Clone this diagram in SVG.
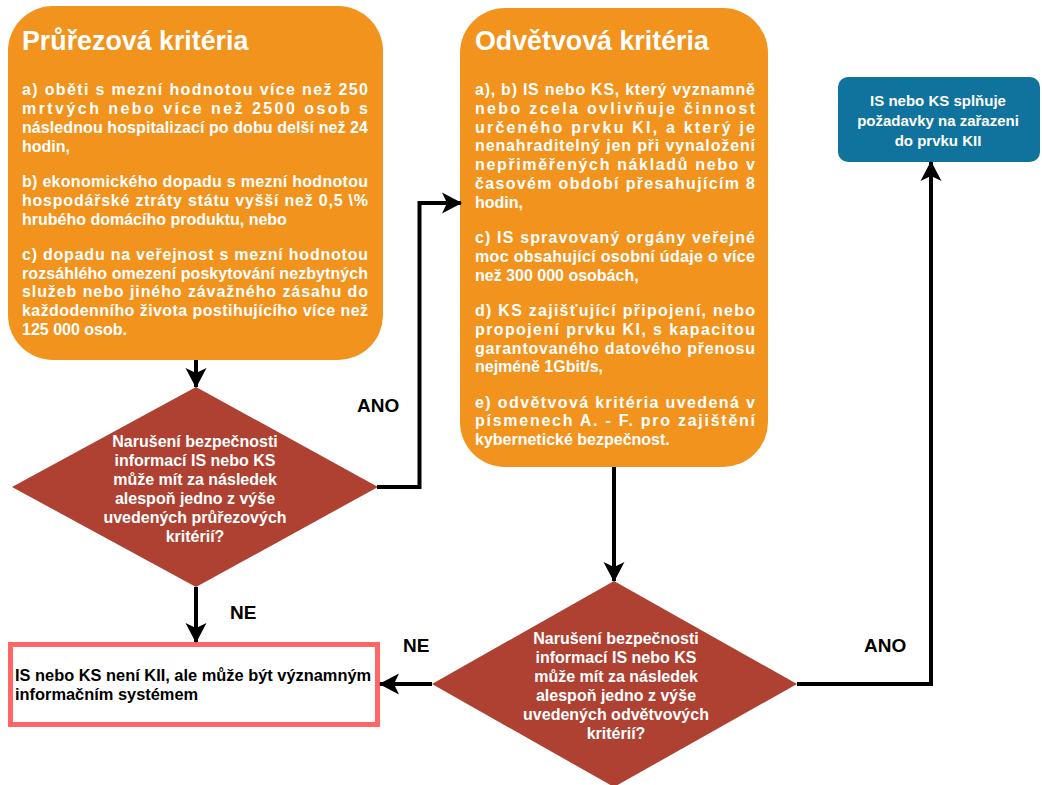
<svg xmlns="http://www.w3.org/2000/svg" width="1042" height="785" viewBox="0 0 1042 785">
<style>
text{font-family:"Liberation Sans",Arial,Helvetica,sans-serif;font-weight:bold}
.orange{fill:#F2931E}
.dia{fill:#AE4132}
.blue{fill:#10739E}
.title{fill:#fff;font-size:26.8px}
.body{fill:#fff;font-size:16px}
.wc{fill:#fff;font-size:16px;text-anchor:middle}
.bc{fill:#fff;font-size:15px;text-anchor:middle}
.blk{fill:#000;font-size:16.4px}
.lbl{fill:#000;font-size:19px}
.edge{fill:none;stroke:#000;stroke-width:4;marker-end:url(#arr)}
</style>
<defs>
<marker id="arr" markerUnits="userSpaceOnUse" viewBox="0 0 20 22" refX="19" refY="11" markerWidth="20" markerHeight="22" orient="auto">
<path d="M0,0.5 L20,11 L0,21.5 L5,11 Z" fill="#000"/>
</marker>
</defs>
<rect width="1042" height="785" fill="#fff"/>

<g id="pruzezova">
<rect class="orange" x="8" y="6" width="375" height="354" rx="45" ry="45"/>
<text class="title" x="22" y="50">Průřezová kritéria</text>
<text class="body" x="22" y="95" textLength="346" lengthAdjust="spacing">a) oběti s mezní hodnotou více než 250</text>
<text class="body" x="22" y="113.9" textLength="346" lengthAdjust="spacing">mrtvých nebo více než 2500 osob s</text>
<text class="body" x="22" y="132.8" textLength="346" lengthAdjust="spacing">následnou hospitalizací po dobu delší než 24</text>
<text class="body" x="22" y="151.7">hodin,</text>
<text class="body" x="22" y="186.8" textLength="346" lengthAdjust="spacing">b) ekonomického dopadu s mezní hodnotou</text>
<text class="body" x="22" y="205.7" textLength="346" lengthAdjust="spacing">hospodářské ztráty státu vyšší než 0,5 \%</text>
<text class="body" x="22" y="224.6">hrubého domácího produktu, nebo</text>
<text class="body" x="22" y="259.6" textLength="346" lengthAdjust="spacing">c) dopadu na veřejnost s mezní hodnotou</text>
<text class="body" x="22" y="278.5" textLength="346" lengthAdjust="spacing">rozsáhlého omezení poskytování nezbytných</text>
<text class="body" x="22" y="297.4" textLength="346" lengthAdjust="spacing">služeb nebo jiného závažného zásahu do</text>
<text class="body" x="22" y="316.3" textLength="346" lengthAdjust="spacing">každodenního života postihujícího více než</text>
<text class="body" x="22" y="335.2">125 000 osob.</text>
</g>

<g id="odvetvova">
<rect class="orange" x="460" y="8" width="308" height="459" rx="45" ry="45"/>
<text class="title" x="475" y="50">Odvětvová kritéria</text>
<text class="body" x="475" y="95" textLength="280" lengthAdjust="spacing">a), b) IS nebo KS, který vyznamně</text>
<text class="body" x="475" y="113.8" textLength="280" lengthAdjust="spacing">nebo zcela ovlivňuje činnost</text>
<text class="body" x="475" y="132.6" textLength="280" lengthAdjust="spacing">určeného prvku KI, a který je</text>
<text class="body" x="475" y="151.4" textLength="280" lengthAdjust="spacing">nenahraditelný jen při vynaložení</text>
<text class="body" x="475" y="170.2" textLength="280" lengthAdjust="spacing">nepřiměřených nákladů nebo v</text>
<text class="body" x="475" y="189" textLength="280" lengthAdjust="spacing">časovém období přesahujícím 8</text>
<text class="body" x="475" y="207.8">hodin,</text>
<text class="body" x="475" y="243" textLength="280" lengthAdjust="spacing">c) IS spravovaný orgány veřejné</text>
<text class="body" x="475" y="261.8" textLength="280" lengthAdjust="spacing">moc obsahující osobní údaje o více</text>
<text class="body" x="475" y="280.6">než 300 000 osobách,</text>
<text class="body" x="475" y="316" textLength="280" lengthAdjust="spacing">d) KS zajišťující připojení, nebo</text>
<text class="body" x="475" y="334.8" textLength="280" lengthAdjust="spacing">propojení prvku KI, s kapacitou</text>
<text class="body" x="475" y="353.6" textLength="280" lengthAdjust="spacing">garantovaného datového přenosu</text>
<text class="body" x="475" y="372.4">nejméně 1Gbit/s,</text>
<text class="body" x="475" y="407.5" textLength="280" lengthAdjust="spacing">e) odvětvová kritéria uvedená v</text>
<text class="body" x="475" y="426.3" textLength="280" lengthAdjust="spacing">písmenech A. - F. pro zajištění</text>
<text class="body" x="475" y="445.1">kybernetické bezpečnost.</text>
</g>

<g id="kii">
<rect class="blue" x="838" y="77" width="202" height="85" rx="10" ry="10"/>
<text class="bc" x="938" y="106">IS nebo KS splňuje</text>
<text class="bc" x="938" y="126">požadavky na zařazeni</text>
<text class="bc" x="938" y="146">do prvku KII</text>
</g>

<g id="otazka1">
<polygon class="dia" points="196,387 378,487 196,587 12,487"/>
<text class="wc" x="195" y="447">Narušení bezpečnosti</text>
<text class="wc" x="195" y="466">informací IS nebo KS</text>
<text class="wc" x="195" y="485">může mít za následek</text>
<text class="wc" x="195" y="504">alespoň jedno z výše</text>
<text class="wc" x="195" y="523">uvedených průřezových</text>
<text class="wc" x="195" y="542">kritérií?</text>
</g>

<g id="otazka2">
<polygon class="dia" points="614,581 797,684 614,787 432,684"/>
<text class="wc" x="616" y="644">Narušení bezpečnosti</text>
<text class="wc" x="616" y="663">informací IS nebo KS</text>
<text class="wc" x="616" y="682">může mít za následek</text>
<text class="wc" x="616" y="701">alespoň jedno z výše</text>
<text class="wc" x="616" y="720">uvedených odvětvových</text>
<text class="wc" x="616" y="739">kritérií?</text>
</g>

<g id="vis">
<rect x="10.5" y="644.5" width="367" height="80" fill="#fff" stroke="#FF6666" stroke-width="5"/>
<text class="blk" x="15" y="681">IS nebo KS není KII, ale může být významným</text>
<text class="blk" x="15" y="700">informačním systémem</text>
</g>

<g id="connectors">
<path class="edge" d="M196,360 V387"/>
<path class="edge" d="M377,487 H419.5 V203 H461"/>
<path class="edge" d="M196,587 V642"/>
<path class="edge" d="M614,467 V581"/>
<path class="edge" d="M432,684 H380"/>
<path class="edge" d="M797,684 H931 V162"/>
<text class="lbl" x="357" y="412">ANO</text>
<text class="lbl" x="230" y="619">NE</text>
<text class="lbl" x="403" y="652">NE</text>
<text class="lbl" x="864" y="652">ANO</text>
</g>
</svg>
